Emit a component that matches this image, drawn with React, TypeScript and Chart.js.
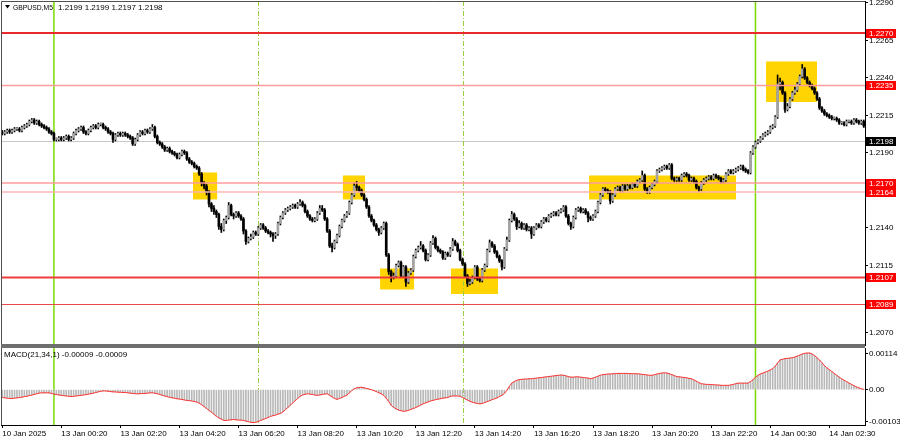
import React, { useEffect, useRef } from "react";
import { Chart, registerables } from "chart.js";

Chart.register(...registerables);

// ---------------- data ----------------
const symbolName = "GBPUSD,M5";
const lastQuote = "1.2199 1.2199 1.2197 1.2198";
const macdTitle = "MACD(21,34,1) -0.00009 -0.00009";

const opens = [
  1.2204, 1.2203, 1.2204, 1.2205, 1.2204, 1.2205, 1.2206, 1.2206, 1.2205, 1.2207,
  1.2208, 1.2209, 1.2211, 1.2212, 1.2210, 1.2211, 1.2209, 1.2208, 1.2207, 1.2206,
  1.2204, 1.2203, 1.2199, 1.2199, 1.2200, 1.2199, 1.2200, 1.2201, 1.2199, 1.2200,
  1.2203, 1.2205, 1.2206, 1.2207, 1.2204, 1.2203, 1.2205, 1.2207, 1.2208, 1.2207,
  1.2209, 1.2209, 1.2207, 1.2206, 1.2204, 1.2203, 1.2199, 1.2202, 1.2203, 1.2202,
  1.2203, 1.2202, 1.2201, 1.2200, 1.2196, 1.2199, 1.2202, 1.2204, 1.2203, 1.2205,
  1.2204, 1.2206, 1.2207, 1.2201, 1.2197, 1.2196, 1.2194, 1.2192, 1.2193, 1.2191,
  1.2190, 1.2189, 1.2187, 1.2189, 1.2191, 1.2190, 1.2186, 1.2184, 1.2183, 1.2181,
  1.2180, 1.2176, 1.2170, 1.2168, 1.2164, 1.2156, 1.2153, 1.2151, 1.2149, 1.2141,
  1.2139, 1.2145, 1.2147, 1.2155, 1.2149, 1.2148, 1.2150, 1.2148, 1.2146, 1.2138,
  1.2131, 1.2133, 1.2134, 1.2137, 1.2136, 1.2140, 1.2142, 1.2140, 1.2138, 1.2137,
  1.2136, 1.2135, 1.2136, 1.2143, 1.2147, 1.2150, 1.2152, 1.2153, 1.2154, 1.2155,
  1.2154, 1.2156, 1.2157, 1.2155, 1.2151, 1.2148, 1.2146, 1.2145, 1.2146, 1.2150,
  1.2153, 1.2152, 1.2146, 1.2138, 1.2128, 1.2127, 1.2131, 1.2135, 1.2141, 1.2145,
  1.2148, 1.2150, 1.2157, 1.2162, 1.2168, 1.2167, 1.2165, 1.2162, 1.2159, 1.2154,
  1.2148, 1.2145, 1.2142, 1.2139, 1.2137, 1.2140, 1.2143, 1.2122, 1.2111, 1.2107,
  1.2108, 1.2115, 1.2117, 1.2108, 1.2114, 1.2104, 1.2110, 1.2112, 1.2121, 1.2125,
  1.2127, 1.2128, 1.2125, 1.2119, 1.2122, 1.2130, 1.2133, 1.2127, 1.2125, 1.2124,
  1.2120, 1.2123, 1.2122, 1.2126, 1.2131, 1.2129, 1.2125, 1.2119, 1.2116, 1.2108,
  1.2103, 1.2104, 1.2107, 1.2114, 1.2106, 1.2105, 1.2112, 1.2115, 1.2125, 1.2130,
  1.2128, 1.2124, 1.2121, 1.2118, 1.2114, 1.2126, 1.2132, 1.2145, 1.2149, 1.2146,
  1.2141, 1.2143, 1.2140, 1.2142, 1.2139, 1.2140, 1.2136, 1.2140, 1.2142, 1.2141,
  1.2144, 1.2146, 1.2145, 1.2148, 1.2149, 1.2150, 1.2149, 1.2151, 1.2152, 1.2154,
  1.2148, 1.2143, 1.2141, 1.2147, 1.2152, 1.2153, 1.2151, 1.2152, 1.2150, 1.2147,
  1.2146, 1.2148, 1.2151, 1.2157, 1.2162, 1.2166, 1.2165, 1.2164, 1.2158, 1.2162,
  1.2166, 1.2167, 1.2165, 1.2168, 1.2166, 1.2168, 1.2167, 1.2169, 1.2168, 1.2171,
  1.2172, 1.2175, 1.2166, 1.2164, 1.2167, 1.2169, 1.2171, 1.2178, 1.2179, 1.2180,
  1.2181, 1.2180, 1.2182, 1.2173, 1.2172, 1.2173, 1.2172, 1.2175, 1.2176, 1.2175,
  1.2172, 1.2173, 1.2171, 1.2167, 1.2166, 1.2170, 1.2172, 1.2173, 1.2174, 1.2173,
  1.2175, 1.2174, 1.2173, 1.2171, 1.2172, 1.2176, 1.2178, 1.2177, 1.2178, 1.2179,
  1.2180, 1.2181, 1.2179, 1.2178, 1.2177, 1.2190, 1.2194, 1.2197, 1.2198, 1.2200,
  1.2202, 1.2203, 1.2204, 1.2207, 1.2208, 1.2214, 1.2236, 1.2237, 1.2230, 1.2219,
  1.2221, 1.2226, 1.2230, 1.2232, 1.2236, 1.2241, 1.2246, 1.2240, 1.2237, 1.2235,
  1.2233, 1.2230, 1.2226, 1.2220, 1.2218, 1.2216, 1.2215, 1.2214, 1.2213, 1.2213,
  1.2212, 1.2210, 1.2210, 1.2209, 1.2211, 1.2211, 1.2210, 1.2212, 1.2211, 1.2210,
  1.2211,
];

const highs = [
  1.2205, 1.2205, 1.2206, 1.2206, 1.2206, 1.2207, 1.2207, 1.2207, 1.2208, 1.2209,
  1.2210, 1.2212, 1.2213, 1.2213, 1.2212, 1.2212, 1.2210, 1.2209, 1.2208, 1.2207,
  1.2205, 1.2204, 1.2200, 1.2201, 1.2201, 1.2201, 1.2202, 1.2202, 1.2201, 1.2204,
  1.2206, 1.2207, 1.2208, 1.2208, 1.2205, 1.2206, 1.2208, 1.2209, 1.2209, 1.2210,
  1.2210, 1.2210, 1.2208, 1.2207, 1.2205, 1.2204, 1.2203, 1.2204, 1.2204, 1.2204,
  1.2204, 1.2203, 1.2202, 1.2201, 1.2200, 1.2203, 1.2205, 1.2205, 1.2206, 1.2206,
  1.2207, 1.2209, 1.2208, 1.2202, 1.2198, 1.2197, 1.2195, 1.2194, 1.2194, 1.2192,
  1.2191, 1.2190, 1.2190, 1.2192, 1.2192, 1.2191, 1.2187, 1.2185, 1.2184, 1.2182,
  1.2181, 1.2177, 1.2171, 1.2169, 1.2165, 1.2157, 1.2155, 1.2152, 1.2150, 1.2143,
  1.2146, 1.2148, 1.2157, 1.2156, 1.2150, 1.2151, 1.2151, 1.2149, 1.2147, 1.2139,
  1.2134, 1.2136, 1.2138, 1.2138, 1.2141, 1.2143, 1.2143, 1.2141, 1.2139, 1.2138,
  1.2137, 1.2137, 1.2144, 1.2148, 1.2151, 1.2153, 1.2154, 1.2155, 1.2156, 1.2156,
  1.2157, 1.2159, 1.2158, 1.2156, 1.2152, 1.2149, 1.2147, 1.2147, 1.2151, 1.2155,
  1.2155, 1.2153, 1.2147, 1.2139, 1.2130, 1.2132, 1.2136, 1.2142, 1.2146, 1.2149,
  1.2151, 1.2158, 1.2163, 1.2170, 1.2171, 1.2168, 1.2166, 1.2163, 1.2160, 1.2155,
  1.2149, 1.2146, 1.2143, 1.2140, 1.2141, 1.2144, 1.2144, 1.2123, 1.2112, 1.2110,
  1.2116, 1.2118, 1.2118, 1.2115, 1.2115, 1.2111, 1.2113, 1.2122, 1.2126, 1.2128,
  1.2131, 1.2129, 1.2126, 1.2123, 1.2131, 1.2135, 1.2134, 1.2128, 1.2126, 1.2125,
  1.2124, 1.2124, 1.2127, 1.2133, 1.2132, 1.2130, 1.2126, 1.2120, 1.2117, 1.2109,
  1.2106, 1.2108, 1.2115, 1.2115, 1.2107, 1.2113, 1.2116, 1.2126, 1.2132, 1.2131,
  1.2129, 1.2125, 1.2122, 1.2119, 1.2127, 1.2134, 1.2146, 1.2151, 1.2150, 1.2147,
  1.2145, 1.2144, 1.2143, 1.2143, 1.2141, 1.2141, 1.2141, 1.2143, 1.2143, 1.2145,
  1.2147, 1.2147, 1.2149, 1.2150, 1.2151, 1.2151, 1.2152, 1.2153, 1.2155, 1.2155,
  1.2149, 1.2144, 1.2148, 1.2153, 1.2154, 1.2154, 1.2153, 1.2153, 1.2151, 1.2148,
  1.2149, 1.2152, 1.2158, 1.2163, 1.2167, 1.2167, 1.2166, 1.2165, 1.2163, 1.2167,
  1.2168, 1.2168, 1.2169, 1.2169, 1.2169, 1.2169, 1.2170, 1.2170, 1.2172, 1.2173,
  1.2178, 1.2176, 1.2167, 1.2168, 1.2170, 1.2172, 1.2179, 1.2180, 1.2181, 1.2182,
  1.2182, 1.2183, 1.2183, 1.2174, 1.2174, 1.2174, 1.2176, 1.2177, 1.2177, 1.2176,
  1.2174, 1.2174, 1.2172, 1.2168, 1.2171, 1.2173, 1.2174, 1.2175, 1.2175, 1.2176,
  1.2176, 1.2175, 1.2174, 1.2173, 1.2177, 1.2179, 1.2179, 1.2179, 1.2180, 1.2181,
  1.2182, 1.2182, 1.2180, 1.2179, 1.2191, 1.2195, 1.2198, 1.2199, 1.2201, 1.2203,
  1.2204, 1.2205, 1.2208, 1.2209, 1.2215, 1.2242, 1.2240, 1.2238, 1.2231, 1.2223,
  1.2227, 1.2231, 1.2234, 1.2237, 1.2242, 1.2249, 1.2247, 1.2241, 1.2238, 1.2236,
  1.2234, 1.2231, 1.2227, 1.2221, 1.2219, 1.2217, 1.2216, 1.2215, 1.2214, 1.2214,
  1.2213, 1.2211, 1.2211, 1.2212, 1.2212, 1.2212, 1.2213, 1.2213, 1.2212, 1.2212,
  1.2212,
];

const lows = [
  1.2202, 1.2202, 1.2203, 1.2203, 1.2203, 1.2204, 1.2205, 1.2204, 1.2204, 1.2206,
  1.2207, 1.2208, 1.2210, 1.2209, 1.2209, 1.2208, 1.2207, 1.2206, 1.2205, 1.2203,
  1.2202, 1.2198, 1.2198, 1.2198, 1.2198, 1.2198, 1.2199, 1.2198, 1.2198, 1.2199,
  1.2202, 1.2204, 1.2205, 1.2203, 1.2202, 1.2202, 1.2204, 1.2206, 1.2206, 1.2206,
  1.2208, 1.2206, 1.2205, 1.2203, 1.2202, 1.2197, 1.2198, 1.2201, 1.2201, 1.2201,
  1.2201, 1.2200, 1.2199, 1.2195, 1.2195, 1.2198, 1.2201, 1.2202, 1.2202, 1.2203,
  1.2203, 1.2205, 1.2200, 1.2196, 1.2195, 1.2193, 1.2191, 1.2191, 1.2190, 1.2189,
  1.2188, 1.2186, 1.2186, 1.2188, 1.2189, 1.2185, 1.2183, 1.2182, 1.2180, 1.2179,
  1.2175, 1.2168, 1.2166, 1.2162, 1.2154, 1.2151, 1.2149, 1.2147, 1.2139, 1.2137,
  1.2138, 1.2143, 1.2146, 1.2148, 1.2146, 1.2147, 1.2147, 1.2145, 1.2136, 1.2129,
  1.2130, 1.2132, 1.2133, 1.2135, 1.2135, 1.2139, 1.2139, 1.2137, 1.2136, 1.2134,
  1.2131, 1.2133, 1.2135, 1.2142, 1.2146, 1.2149, 1.2151, 1.2152, 1.2153, 1.2153,
  1.2153, 1.2155, 1.2154, 1.2150, 1.2147, 1.2145, 1.2144, 1.2144, 1.2145, 1.2149,
  1.2151, 1.2145, 1.2137, 1.2127, 1.2124, 1.2126, 1.2130, 1.2134, 1.2140, 1.2144,
  1.2147, 1.2149, 1.2156, 1.2161, 1.2165, 1.2164, 1.2161, 1.2158, 1.2153, 1.2147,
  1.2144, 1.2141, 1.2138, 1.2135, 1.2136, 1.2139, 1.2121, 1.2109, 1.2104, 1.2106,
  1.2107, 1.2114, 1.2107, 1.2107, 1.2101, 1.2103, 1.2109, 1.2111, 1.2120, 1.2124,
  1.2126, 1.2124, 1.2118, 1.2118, 1.2121, 1.2129, 1.2126, 1.2124, 1.2123, 1.2119,
  1.2119, 1.2121, 1.2121, 1.2125, 1.2128, 1.2124, 1.2118, 1.2115, 1.2107, 1.2101,
  1.2102, 1.2103, 1.2106, 1.2105, 1.2104, 1.2104, 1.2111, 1.2114, 1.2124, 1.2127,
  1.2123, 1.2120, 1.2117, 1.2112, 1.2113, 1.2125, 1.2131, 1.2144, 1.2145, 1.2139,
  1.2140, 1.2139, 1.2139, 1.2138, 1.2138, 1.2133, 1.2135, 1.2139, 1.2140, 1.2140,
  1.2143, 1.2144, 1.2144, 1.2147, 1.2148, 1.2148, 1.2148, 1.2150, 1.2151, 1.2147,
  1.2142, 1.2139, 1.2140, 1.2146, 1.2151, 1.2150, 1.2150, 1.2149, 1.2144, 1.2145,
  1.2145, 1.2147, 1.2150, 1.2156, 1.2161, 1.2164, 1.2163, 1.2156, 1.2157, 1.2161,
  1.2165, 1.2164, 1.2164, 1.2165, 1.2165, 1.2166, 1.2166, 1.2167, 1.2167, 1.2170,
  1.2171, 1.2165, 1.2163, 1.2163, 1.2166, 1.2168, 1.2170, 1.2177, 1.2178, 1.2179,
  1.2179, 1.2179, 1.2172, 1.2171, 1.2171, 1.2171, 1.2171, 1.2174, 1.2174, 1.2171,
  1.2171, 1.2170, 1.2166, 1.2164, 1.2165, 1.2169, 1.2171, 1.2172, 1.2172, 1.2172,
  1.2173, 1.2172, 1.2170, 1.2170, 1.2171, 1.2175, 1.2176, 1.2176, 1.2177, 1.2178,
  1.2179, 1.2178, 1.2177, 1.2176, 1.2176, 1.2189, 1.2193, 1.2196, 1.2197, 1.2199,
  1.2201, 1.2202, 1.2203, 1.2206, 1.2207, 1.2213, 1.2232, 1.2229, 1.2217, 1.2218,
  1.2220, 1.2225, 1.2229, 1.2231, 1.2235, 1.2240, 1.2239, 1.2236, 1.2234, 1.2232,
  1.2229, 1.2225, 1.2219, 1.2217, 1.2215, 1.2214, 1.2213, 1.2212, 1.2212, 1.2211,
  1.2209, 1.2209, 1.2208, 1.2208, 1.2210, 1.2209, 1.2209, 1.2210, 1.2209, 1.2209,
  1.2207,
];

const closes = [
  1.2203, 1.2204, 1.2205, 1.2204, 1.2205, 1.2206, 1.2206, 1.2205, 1.2207, 1.2208,
  1.2209, 1.2211, 1.2212, 1.2210, 1.2211, 1.2209, 1.2208, 1.2207, 1.2206, 1.2204,
  1.2203, 1.2199, 1.2199, 1.2200, 1.2199, 1.2200, 1.2201, 1.2199, 1.2200, 1.2203,
  1.2205, 1.2206, 1.2207, 1.2204, 1.2203, 1.2205, 1.2207, 1.2208, 1.2207, 1.2209,
  1.2209, 1.2207, 1.2206, 1.2204, 1.2203, 1.2199, 1.2202, 1.2203, 1.2202, 1.2203,
  1.2202, 1.2201, 1.2200, 1.2196, 1.2199, 1.2202, 1.2204, 1.2203, 1.2205, 1.2204,
  1.2206, 1.2207, 1.2201, 1.2197, 1.2196, 1.2194, 1.2192, 1.2193, 1.2191, 1.2190,
  1.2189, 1.2187, 1.2189, 1.2191, 1.2190, 1.2186, 1.2184, 1.2183, 1.2181, 1.2180,
  1.2176, 1.2170, 1.2168, 1.2164, 1.2156, 1.2153, 1.2151, 1.2149, 1.2141, 1.2139,
  1.2145, 1.2147, 1.2155, 1.2149, 1.2148, 1.2150, 1.2148, 1.2146, 1.2138, 1.2131,
  1.2133, 1.2134, 1.2137, 1.2136, 1.2140, 1.2142, 1.2140, 1.2138, 1.2137, 1.2136,
  1.2135, 1.2136, 1.2143, 1.2147, 1.2150, 1.2152, 1.2153, 1.2154, 1.2155, 1.2154,
  1.2156, 1.2157, 1.2155, 1.2151, 1.2148, 1.2146, 1.2145, 1.2146, 1.2150, 1.2153,
  1.2152, 1.2146, 1.2138, 1.2128, 1.2127, 1.2131, 1.2135, 1.2141, 1.2145, 1.2148,
  1.2150, 1.2157, 1.2162, 1.2168, 1.2167, 1.2165, 1.2162, 1.2159, 1.2154, 1.2148,
  1.2145, 1.2142, 1.2139, 1.2137, 1.2140, 1.2143, 1.2122, 1.2111, 1.2107, 1.2108,
  1.2115, 1.2117, 1.2108, 1.2114, 1.2104, 1.2110, 1.2112, 1.2121, 1.2125, 1.2127,
  1.2128, 1.2125, 1.2119, 1.2122, 1.2130, 1.2133, 1.2127, 1.2125, 1.2124, 1.2120,
  1.2123, 1.2122, 1.2126, 1.2131, 1.2129, 1.2125, 1.2119, 1.2116, 1.2108, 1.2103,
  1.2104, 1.2107, 1.2114, 1.2106, 1.2105, 1.2112, 1.2115, 1.2125, 1.2130, 1.2128,
  1.2124, 1.2121, 1.2118, 1.2114, 1.2126, 1.2132, 1.2145, 1.2149, 1.2146, 1.2141,
  1.2143, 1.2140, 1.2142, 1.2139, 1.2140, 1.2136, 1.2140, 1.2142, 1.2141, 1.2144,
  1.2146, 1.2145, 1.2148, 1.2149, 1.2150, 1.2149, 1.2151, 1.2152, 1.2154, 1.2148,
  1.2143, 1.2141, 1.2147, 1.2152, 1.2153, 1.2151, 1.2152, 1.2150, 1.2147, 1.2146,
  1.2148, 1.2151, 1.2157, 1.2162, 1.2166, 1.2165, 1.2164, 1.2158, 1.2162, 1.2166,
  1.2167, 1.2165, 1.2168, 1.2166, 1.2168, 1.2167, 1.2169, 1.2168, 1.2171, 1.2172,
  1.2175, 1.2166, 1.2164, 1.2167, 1.2169, 1.2171, 1.2178, 1.2179, 1.2180, 1.2181,
  1.2180, 1.2182, 1.2173, 1.2172, 1.2173, 1.2172, 1.2175, 1.2176, 1.2175, 1.2172,
  1.2173, 1.2171, 1.2167, 1.2166, 1.2170, 1.2172, 1.2173, 1.2174, 1.2173, 1.2175,
  1.2174, 1.2173, 1.2171, 1.2172, 1.2176, 1.2178, 1.2177, 1.2178, 1.2179, 1.2180,
  1.2181, 1.2179, 1.2178, 1.2177, 1.2190, 1.2194, 1.2197, 1.2198, 1.2200, 1.2202,
  1.2203, 1.2204, 1.2207, 1.2208, 1.2214, 1.2236, 1.2237, 1.2230, 1.2219, 1.2221,
  1.2226, 1.2230, 1.2232, 1.2236, 1.2241, 1.2246, 1.2240, 1.2237, 1.2235, 1.2233,
  1.2230, 1.2226, 1.2220, 1.2218, 1.2216, 1.2215, 1.2214, 1.2213, 1.2213, 1.2212,
  1.2210, 1.2210, 1.2209, 1.2211, 1.2211, 1.2210, 1.2212, 1.2211, 1.2210, 1.2211,
  1.2208,
];

const macdValues = [
  -25e-5, -26e-5, -27e-5, -28e-5, -28e-5, -27e-5, -26e-5, -25e-5, -24e-5, -22e-5,
  -21e-5, -19e-5, -17e-5, -15e-5, -13e-5, -11e-5, -10e-5, -10e-5, -10e-5, -10e-5,
  -12e-5, -14e-5, -15e-5, -17e-5, -18e-5, -19e-5, -20e-5, -21e-5, -22e-5, -21e-5,
  -20e-5, -19e-5, -18e-5, -17e-5, -16e-5, -14e-5, -13e-5, -11e-5, -9e-5, -7e-5,
  -5e-5, -4e-5, -4e-5, -5e-5, -6e-5, -7e-5, -7e-5, -8e-5, -8e-5, -9e-5,
  -9e-5, -10e-5, -11e-5, -12e-5, -13e-5, -13e-5, -13e-5, -12e-5, -12e-5, -11e-5,
  -10e-5, -10e-5, -11e-5, -13e-5, -15e-5, -18e-5, -20e-5, -22e-5, -24e-5, -26e-5,
  -27e-5, -29e-5, -30e-5, -31e-5, -33e-5, -34e-5, -35e-5, -36e-5, -38e-5, -39e-5,
  -43e-5, -48e-5, -54e-5, -60e-5, -66e-5, -72e-5, -78e-5, -85e-5, -90e-5, -94e-5,
  -98e-5, -98e-5, -97e-5, -96e-5, -95e-5, -96e-5, -97e-5, -97e-5, -98e-5, -100e-5,
  -102e-5, -104e-5, -105e-5, -104e-5, -101e-5, -98e-5, -95e-5, -92e-5, -89e-5, -85e-5,
  -83e-5, -81e-5, -78e-5, -76e-5, -71e-5, -64e-5, -57e-5, -50e-5, -42e-5, -35e-5,
  -28e-5, -21e-5, -17e-5, -15e-5, -13e-5, -14e-5, -15e-5, -17e-5, -18e-5, -17e-5,
  -15e-5, -14e-5, -13e-5, -18e-5, -23e-5, -28e-5, -31e-5, -28e-5, -25e-5, -21e-5,
  -18e-5, -10e-5, -3e-5, 3e-5, 6e-5, 7e-5, 8e-5, 6e-5, 4e-5, 2e-5,
  0, -3e-5, -6e-5, -10e-5, -13e-5, -18e-5, -27e-5, -38e-5, -50e-5, -56e-5,
  -61e-5, -65e-5, -67e-5, -69e-5, -68e-5, -66e-5, -63e-5, -60e-5, -57e-5, -53e-5,
  -49e-5, -45e-5, -42e-5, -39e-5, -36e-5, -34e-5, -32e-5, -30e-5, -29e-5, -27e-5,
  -26e-5, -25e-5, -21e-5, -20e-5, -20e-5, -20e-5, -21e-5, -25e-5, -29e-5, -33e-5,
  -37e-5, -40e-5, -42e-5, -44e-5, -45e-5, -44e-5, -41e-5, -38e-5, -35e-5, -32e-5,
  -29e-5, -26e-5, -22e-5, -18e-5, -12e-5, -2e-5, 10e-5, 21e-5, 26e-5, 30e-5,
  32e-5, 33e-5, 34e-5, 34e-5, 35e-5, 35e-5, 36e-5, 37e-5, 38e-5, 39e-5,
  40e-5, 41e-5, 42e-5, 43e-5, 44e-5, 45e-5, 46e-5, 47e-5, 46e-5, 44e-5,
  42e-5, 40e-5, 40e-5, 41e-5, 41e-5, 40e-5, 39e-5, 38e-5, 37e-5, 35e-5,
  37e-5, 40e-5, 43e-5, 46e-5, 48e-5, 49e-5, 50e-5, 50e-5, 51e-5, 51e-5,
  52e-5, 52e-5, 52e-5, 52e-5, 52e-5, 51e-5, 51e-5, 51e-5, 51e-5, 50e-5,
  49e-5, 48e-5, 47e-5, 46e-5, 46e-5, 48e-5, 50e-5, 52e-5, 53e-5, 54e-5,
  53e-5, 51e-5, 48e-5, 45e-5, 42e-5, 41e-5, 40e-5, 39e-5, 38e-5, 36e-5,
  35e-5, 31e-5, 27e-5, 23e-5, 19e-5, 18e-5, 17e-5, 17e-5, 16e-5, 16e-5,
  15e-5, 15e-5, 14e-5, 14e-5, 14e-5, 14e-5, 15e-5, 17e-5, 19e-5, 21e-5,
  21e-5, 21e-5, 21e-5, 21e-5, 26e-5, 32e-5, 39e-5, 46e-5, 50e-5, 53e-5,
  56e-5, 59e-5, 63e-5, 67e-5, 75e-5, 85e-5, 95e-5, 97e-5, 99e-5, 100e-5,
  101e-5, 102e-5, 104e-5, 107e-5, 110e-5, 114e-5, 116e-5, 117e-5, 117e-5, 114e-5,
  109e-5, 102e-5, 95e-5, 86e-5, 77e-5, 70e-5, 64e-5, 58e-5, 52e-5, 46e-5,
  40e-5, 35e-5, 30e-5, 26e-5, 21e-5, 17e-5, 13e-5, 9e-5, 6e-5, 3e-5,
  1e-5,
];

const timeLabels = [
  "10 Jan 2025", "13 Jan 00:20", "13 Jan 02:20", "13 Jan 04:20", "13 Jan 06:20",
  "13 Jan 08:20", "13 Jan 10:20", "13 Jan 12:20", "13 Jan 14:20", "13 Jan 16:20",
  "13 Jan 18:20", "13 Jan 20:20", "13 Jan 22:20", "14 Jan 00:30", "14 Jan 02:30",
];
const barsPerTimeLabel = 24;

const priceTicks = [1.229, 1.2265, 1.224, 1.2215, 1.219, 1.214, 1.2115, 1.207];
const macdTicks = [0.00114, 0, -0.00103];

const levelPrices = [1.227, 1.2235, 1.217, 1.2164, 1.2107, 1.2089];
const bidPrice = 1.2198;

const zoneStartBar = [77.5, 138.4, 153.5, 182.3, 238.4, 310.3];
const zoneEndBar = [87.3, 147.4, 167.3, 201.4, 298.1, 331.0];
const zoneHigh = [1.2177, 1.2175, 1.2113, 1.2113, 1.2175, 1.2251];
const zoneLow = [1.2159, 1.2159, 1.2099, 1.2096, 1.2159, 1.2224];

const daySeparatorBars = [21, 306];
const sessionBars = [104, 187];

// ---------------- styling ----------------
const FONT = "'Liberation Sans', Arial, sans-serif";
const W = 900;
const PRICE_H = 346;
const MACD_H = 95;
const AXIS_W = 35;
const BULL = "#a3a3a3";
const BEAR = "#000000";
const LEVEL_STYLES = [
  { color: "#ea2a2a", width: 2 },
  { color: "#ff9c9c", width: 1.5 },
  { color: "#ff9c9c", width: 1.5 },
  { color: "#ffb4b4", width: 1.5 },
  { color: "#f03c3c", width: 2 },
  { color: "#e84848", width: 1 },
];

function noPad(s: any) {
  s.paddingTop = 0;
  s.paddingBottom = 0;
  s.paddingLeft = 0;
  s.paddingRight = 0;
}

function drawVerticals(chart: any) {
  const { ctx, chartArea, scales } = chart;
  const x = scales.x;
  ctx.save();
  ctx.lineWidth = 1.5;
  ctx.strokeStyle = "#7ada00";
  daySeparatorBars.forEach((b) => {
    const px = x.getPixelForValue(b);
    ctx.beginPath();
    ctx.moveTo(px, chartArea.top);
    ctx.lineTo(px, chartArea.bottom);
    ctx.stroke();
  });
  ctx.lineWidth = 1;
  ctx.strokeStyle = "#9ad040";
  ctx.setLineDash([5, 2, 1, 2]);
  sessionBars.forEach((b) => {
    const px = Math.round(x.getPixelForValue(b)) + 0.5;
    ctx.beginPath();
    ctx.moveTo(px, chartArea.top);
    ctx.lineTo(px, chartArea.bottom);
    ctx.stroke();
  });
  ctx.restore();
}

function axisBox(ctx: any, y: number, text: string, bg: string, left: number) {
  ctx.fillStyle = bg;
  ctx.fillRect(left + 1, Math.round(y) - 4, 30, 9);
  ctx.fillStyle = "#ffffff";
  ctx.font = `8px ${FONT}`;
  ctx.textBaseline = "middle";
  ctx.textAlign = "left";
  ctx.fillText(text, left + 4, Math.round(y) + 0.5);
}

const pricePlugin = {
  id: "pricePlugin",
  beforeDatasetsDraw(chart: any) {
    const { ctx, chartArea, scales } = chart;
    const { x, y } = scales;
    ctx.save();
    const by = Math.round(y.getPixelForValue(bidPrice)) + 0.5;
    ctx.strokeStyle = "#c8c8c8";
    ctx.lineWidth = 1;
    ctx.beginPath();
    ctx.moveTo(chartArea.left, by);
    ctx.lineTo(chartArea.right, by);
    ctx.stroke();
    ctx.fillStyle = "#ffd400";
    zoneStartBar.forEach((s, i) => {
      const x1 = x.getPixelForValue(s);
      const x2 = x.getPixelForValue(zoneEndBar[i]);
      const y1 = y.getPixelForValue(zoneHigh[i]);
      const y2 = y.getPixelForValue(zoneLow[i]);
      ctx.fillRect(x1, y1, x2 - x1, y2 - y1);
    });
    ctx.restore();
    drawVerticals(chart);
  },
  afterDatasetsDraw(chart: any) {
    const { ctx, chartArea, scales } = chart;
    const { y } = scales;
    ctx.save();
    levelPrices.forEach((p, i) => {
      const st = LEVEL_STYLES[i];
      const py = y.getPixelForValue(p);
      ctx.strokeStyle = st.color;
      ctx.lineWidth = st.width;
      ctx.beginPath();
      ctx.moveTo(chartArea.left, py);
      ctx.lineTo(chartArea.right, py);
      ctx.stroke();
    });
    ctx.restore();
  },
  afterDraw(chart: any) {
    const { ctx, chartArea, scales } = chart;
    const { y } = scales;
    ctx.save();
    ctx.strokeStyle = "#505050";
    ctx.lineWidth = 1;
    ctx.beginPath();
    ctx.moveTo(1.5, chartArea.bottom);
    ctx.lineTo(1.5, 1.5);
    ctx.lineTo(chartArea.right, 1.5);
    ctx.stroke();
    ctx.fillStyle = "#6e6e6e";
    ctx.fillRect(1, chartArea.bottom - 1, chartArea.right - 1, 2);
    levelPrices.forEach((p) => axisBox(ctx, y.getPixelForValue(p), p.toFixed(4), "#ff0000", chartArea.right));
    axisBox(ctx, y.getPixelForValue(bidPrice), bidPrice.toFixed(4), "#000000", chartArea.right);
    ctx.fillStyle = "#000";
    ctx.beginPath();
    ctx.moveTo(5, 5);
    ctx.lineTo(10, 5);
    ctx.lineTo(7.5, 8.5);
    ctx.closePath();
    ctx.fill();
    ctx.font = `8px ${FONT}`;
    ctx.textBaseline = "middle";
    ctx.textAlign = "left";
    ctx.fillText(symbolName, 13, 7.5, 40);
    ctx.fillText(lastQuote, 58, 7.5);
    ctx.restore();
  },
};

const macdPlugin = {
  id: "macdPlugin",
  beforeDatasetsDraw(chart: any) {
    drawVerticals(chart);
  },
  afterDraw(chart: any) {
    const { ctx, chartArea } = chart;
    ctx.save();
    ctx.fillStyle = "#6e6e6e";
    ctx.fillRect(1, 0, chartArea.right - 1, 2);
    ctx.strokeStyle = "#505050";
    ctx.lineWidth = 1;
    ctx.beginPath();
    ctx.moveTo(1.5, chartArea.top);
    ctx.lineTo(1.5, chartArea.bottom);
    ctx.stroke();
    ctx.fillStyle = "#000";
    ctx.font = `8px ${FONT}`;
    ctx.textBaseline = "middle";
    ctx.textAlign = "left";
    ctx.fillText(macdTitle, 4, chartArea.top + 7);
    ctx.restore();
  },
};

export default function App() {
  const priceRef = useRef<HTMLCanvasElement>(null);
  const macdRef = useRef<HTMLCanvasElement>(null);

  useEffect(() => {
    const labels = closes.map((_, i) => i);
    const tickFont = { family: FONT, size: 8 };

    const priceChart = new Chart(priceRef.current as HTMLCanvasElement, {
      type: "bar",
      data: {
        labels,
        datasets: [
          {
            data: opens.map((o, i) => [o, closes[i]]) as any,
            backgroundColor: opens.map((o, i) => (closes[i] >= o ? BULL : BEAR)),
            barThickness: 2,
            minBarLength: 1,
            borderWidth: 0,
            grouped: false,
          } as any,
          {
            data: lows.map((l, i) => [l, highs[i]]) as any,
            backgroundColor: "#000",
            barThickness: 1,
            borderWidth: 0,
            grouped: false,
          } as any,
        ],
      },
      options: {
        animation: false,
        responsive: false,
        events: [],
        layout: { padding: { left: 1, top: 1, bottom: 1, right: 0 } },
        plugins: { legend: { display: false }, tooltip: { enabled: false } },
        scales: {
          x: { display: false, offset: true, afterFit: noPad },
          y: {
            position: "right",
            min: 1.2062,
            max: 1.22913,
            afterFit: (s: any) => {
              s.width = AXIS_W;
              noPad(s);
            },
            afterBuildTicks: (s: any) => {
              s.ticks = priceTicks.map((v) => ({ value: v }));
            },
            ticks: {
              callback: (v: any) => Number(v).toFixed(4),
              font: tickFont,
              color: "#000",
              padding: 1,
            },
            grid: { drawOnChartArea: false, drawTicks: true, tickLength: 3, color: "#000" },
            border: { display: true, color: "#000" },
          },
        },
      } as any,
      plugins: [pricePlugin],
    });

    const macdChart = new Chart(macdRef.current as HTMLCanvasElement, {
      type: "bar",
      data: {
        labels,
        datasets: [
          {
            type: "line",
            data: macdValues,
            borderColor: "#ff3030",
            borderWidth: 1,
            pointRadius: 0,
            tension: 0,
          } as any,
          {
            type: "bar",
            data: macdValues,
            backgroundColor: "#b8b8b8",
            barThickness: 1,
            borderWidth: 0,
          } as any,
        ],
      },
      options: {
        animation: false,
        responsive: false,
        events: [],
        layout: { padding: { left: 1, top: 2, bottom: 0, right: 0 } },
        plugins: { legend: { display: false }, tooltip: { enabled: false } },
        scales: {
          x: {
            offset: true,
            afterFit: (s: any) => {
              s.height = 16;
              noPad(s);
            },
            ticks: {
              autoSkip: false,
              maxRotation: 0,
              minRotation: 0,
              align: "start",
              padding: 1,
              font: tickFont,
              color: "#000",
              callback: (_v: any, i: number) =>
                i % barsPerTimeLabel === 0 ? timeLabels[i / barsPerTimeLabel] ?? "" : "",
            },
            grid: {
              offset: false,
              drawOnChartArea: false,
              drawTicks: true,
              tickLength: 3,
              color: (c: any) => (c.index % barsPerTimeLabel === 0 ? "#000" : "rgba(0,0,0,0)"),
            },
            border: { display: true, color: "#000" },
          },
          y: {
            position: "right",
            min: -0.001126,
            max: 0.00133,
            afterFit: (s: any) => {
              s.width = AXIS_W;
              noPad(s);
            },
            afterBuildTicks: (s: any) => {
              s.ticks = macdTicks.map((v) => ({ value: v }));
            },
            ticks: {
              callback: (v: any) => (Number(v) === 0 ? "0.00" : Number(v).toFixed(5)),
              font: tickFont,
              color: "#000",
              padding: 1,
            },
            grid: { drawOnChartArea: false, drawTicks: true, tickLength: 3, color: "#000" },
            border: { display: true, color: "#000" },
          },
        },
      } as any,
      plugins: [macdPlugin],
    });

    return () => {
      priceChart.destroy();
      macdChart.destroy();
    };
  }, []);

  return (
    <div style={{ position: "absolute", left: 0, top: 0, width: W, height: PRICE_H + MACD_H, background: "#fff" }}>
      <canvas
        ref={priceRef}
        width={W}
        height={PRICE_H}
        style={{ position: "absolute", left: 0, top: 0, width: W, height: PRICE_H }}
      />
      <canvas
        ref={macdRef}
        width={W}
        height={MACD_H}
        style={{ position: "absolute", left: 0, top: PRICE_H, width: W, height: MACD_H }}
      />
    </div>
  );
}
